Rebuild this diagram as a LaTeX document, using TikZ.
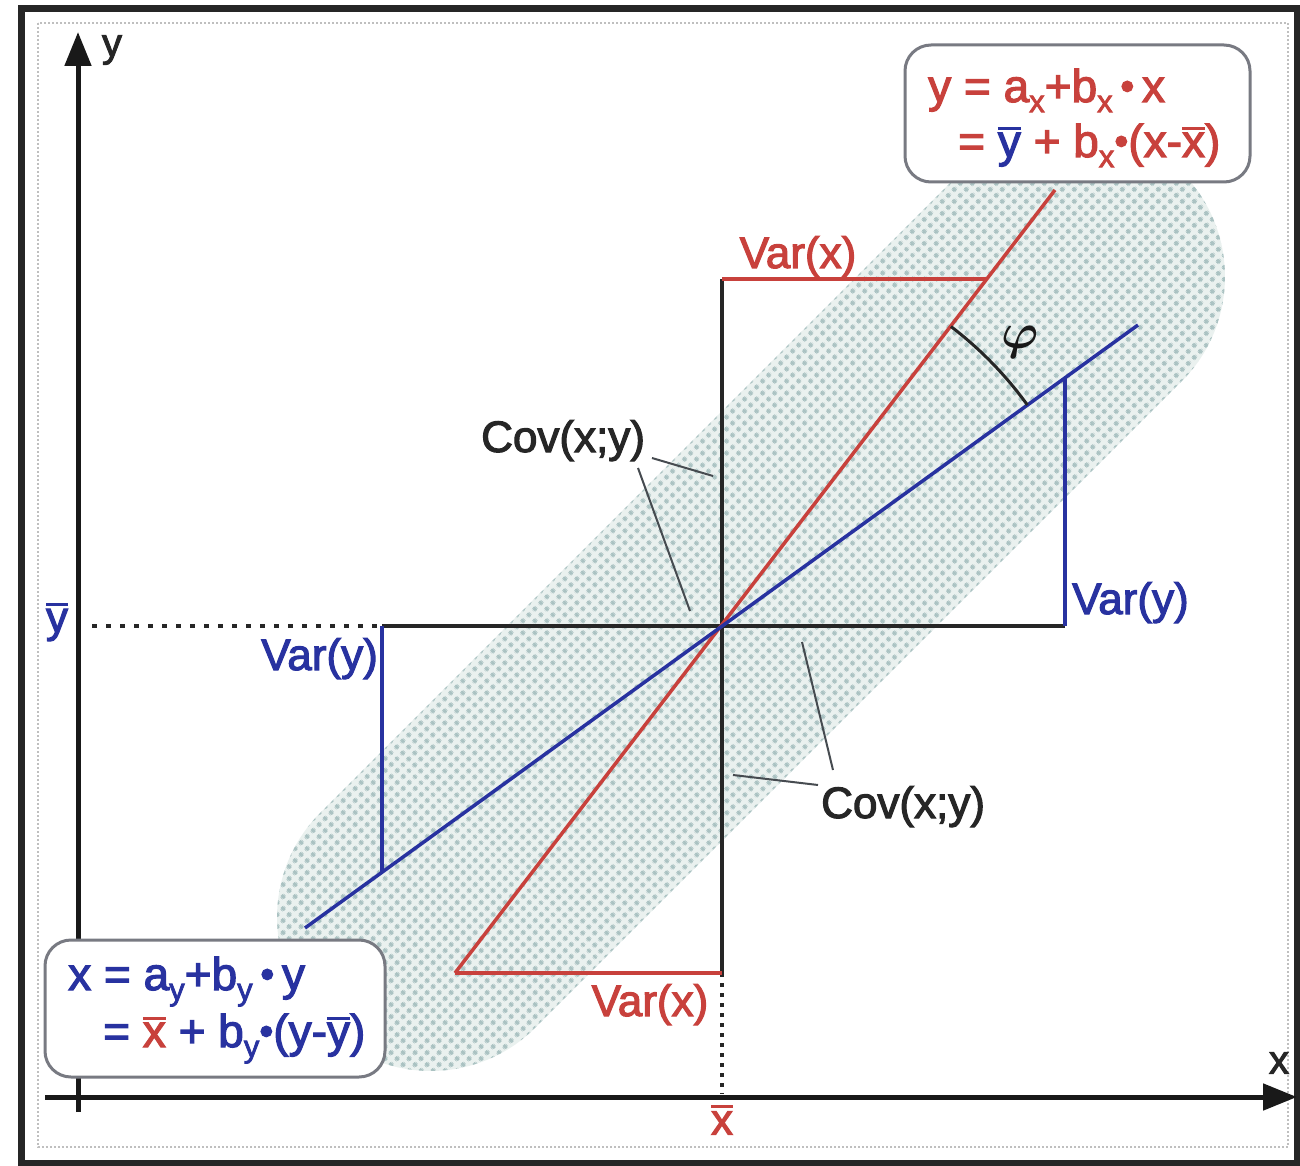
\documentclass[tikz,border=0pt]{standalone}
\usepackage{bm}
\usepackage{fontspec}
\setmainfont{Liberation Sans}[FakeBold=2.5]
\usetikzlibrary{arrows.meta,patterns.meta}
\definecolor{myred}{RGB}{200,65,60}
\definecolor{myblue}{RGB}{40,50,160}
\definecolor{dotcol}{RGB}{170,194,194}
\definecolor{bandfill}{RGB}{234,241,239}
\definecolor{leadcol}{RGB}{70,75,80}
\definecolor{boxcol}{RGB}{120,122,130}
\tikzdeclarepattern{
  name=bandots,
  type=uncolored,
  bounding box={(0pt,0pt) and (9pt,9pt)},
  tile size={(9pt,9pt)},
  tile transformation={rotate=45},
  code={\fill (4.5pt,4.5pt) circle (2.8pt);}
}
\newcommand\mysub[1]{\raisebox{-0.22em}{\fontsize{31}{31}\selectfont #1}}
\newcommand\ovl[1]{\leavevmode\vbox{\hrule height 3pt\kern 3pt\hbox{#1}}}
\newcommand\bul{\raisebox{0.05em}{\fontsize{40}{40}\selectfont•}}
\tikzset{
  axis/.style={line width=5pt, black!90, -{Triangle[length=34pt,width=26pt]}},
  blk/.style={line width=3.5pt, black!85},
  redl/.style={line width=3.5pt, myred},
  bluel/.style={line width=3.5pt, myblue},
  lbl/.style={font=\fontsize{44}{50}\selectfont, inner sep=0pt},
  eqbox/.style={draw=boxcol, line width=3pt, fill=white, rounded corners=26pt, inner sep=0pt},
  leader/.style={line width=2pt, leadcol},
  dotl/.style={line width=4.5pt, black!85, dash pattern=on 5pt off 9pt},
}
\begin{document}
\begin{tikzpicture}[x=1pt,y=-1pt]
\useasboundingbox (0,0) rectangle (1300,1166);
% faint inner frame and outer frame
\draw[black!25, line width=1.2pt, dash pattern=on 2pt off 2pt] (38,23) rectangle (1288,1147);
\draw[line width=7pt, black!85] (21,9) rectangle (1297,1163);
% scatter band
\begin{scope}[shift={(751,597)}, rotate=45]
  \fill[bandfill, rounded corners=148pt] (-605,-152) rectangle (605,152);
  \fill[pattern=bandots, pattern color=dotcol, rounded corners=148pt] (-605,-152) rectangle (605,152);
\end{scope}
% coordinates
\coordinate (C) at (722,626);
\coordinate (T) at (722,279);
\coordinate (TR) at (987,279);
\coordinate (R) at (1065,626);
\coordinate (RT) at (1065,378);
\coordinate (L) at (382,626);
\coordinate (LB) at (382,872);
\coordinate (B) at (722,973);
\coordinate (BL) at (455,973);
\coordinate (RE) at (1055,190);
\coordinate (BE1) at (305,928);
\coordinate (BE2) at (1138,325);
\coordinate (yb) at (78,1112);
\coordinate (yt) at (78,32);
\coordinate (xl) at (45,1097);
\coordinate (xr) at (1297,1097);
\coordinate (ybarL) at (92,626);
\coordinate (xbarB) at (722,1094);
% axes
\draw[axis] (yb) -- (yt);
\draw[axis] (xl) -- (xr);
% dotted mean lines
\draw[dotl] (ybarL) -- (L);
\draw[line width=4.5pt, black!85, dash pattern=on 4pt off 6pt] (B) -- (xbarB);
% cross
\draw[blk] (T) -- (B);
\draw[blk] (L) -- (R);
% variance sides
\draw[redl] (T) -- (TR);
\draw[redl] (B) -- (BL);
\draw[bluel] (R) -- (RT);
\draw[bluel] (L) -- (LB);
% regression lines
\draw[redl] (BL) -- (RE);
\draw[bluel] (BE1) -- (BE2);
% angle
\draw[line width=3pt, black!85] (C) ++(-52.6:377) arc[start angle=-52.6, end angle=-35.9, radius=377];
\node[inner sep=0pt, scale=5, text=black!90] (phi) at (1020,342) {$\bm{\varphi}$};
% labels
\node[lbl, text=myred, anchor=base] (varxT) at (798,268) {Var(x)};
\node[lbl, text=myred, anchor=base] (varxB) at (650,1016) {Var(x)};
\node[lbl, text=myblue, anchor=base west] (varyR) at (1072,614) {Var(y)};
\node[lbl, text=myblue, anchor=base east] (varyL) at (378,670) {Var(y)};
\node[lbl, text=black!85, anchor=base west] (cov1) at (481,452) {Cov(x;y)};
\node[lbl, text=black!85, anchor=base west] (cov2) at (821,818) {Cov(x;y)};
\node[lbl, text=myblue] (ybar) at (57,622) {\ovl{y}};
\node[lbl, text=myred] (xbar) at (722,1120) {\ovl{x}};
\node[lbl, font=\fontsize{40}{40}\selectfont, text=black!85] (ylab) at (112,50) {y};
\node[lbl, font=\fontsize{40}{40}\selectfont, text=black!85] (xlab) at (1279,1063) {x};
% leaders
\coordinate (c1a) at (652,458); \coordinate (c1b) at (713,476);
\coordinate (c1c) at (638,468); \coordinate (c1d) at (690,611);
\coordinate (c2a) at (802,642); \coordinate (c2b) at (833,770);
\coordinate (c2c) at (733,775); \coordinate (c2d) at (818,785);
\draw[leader] (c1a) -- (c1b);
\draw[leader] (c1c) -- (c1d);
\draw[leader] (c2a) -- (c2b);
\draw[leader] (c2c) -- (c2d);
% equation boxes
\node[eqbox, minimum width=345pt, minimum height=137pt] (box1) at (1077.5,113.5) {};
\node[lbl, text=myred, anchor=base west, font=\fontsize{46}{50}\selectfont] (eq1a) at (928,102) {y = a\mysub{x}+b\mysub{x}\,\bul\,x};
\node[lbl, text=myred, anchor=base west, font=\fontsize{46}{50}\selectfont] (eq1b) at (958,157) {= \textcolor{myblue}{\ovl{y}} + b\mysub{x}\bul(x-\ovl{x})};
\node[eqbox, minimum width=340pt, minimum height=137pt] (box2) at (215,1008.5) {};
\node[lbl, text=myblue, anchor=base west, font=\fontsize{46}{50}\selectfont] (eq2a) at (68,990) {x = a\mysub{y}+b\mysub{y}\,\bul\,y};
\node[lbl, text=myblue, anchor=base west, font=\fontsize{46}{50}\selectfont] (eq2b) at (103,1047) {= \textcolor{myred}{\ovl{x}} + b\mysub{y}\bul(y-\ovl{y})};
\end{tikzpicture}
\end{document}
